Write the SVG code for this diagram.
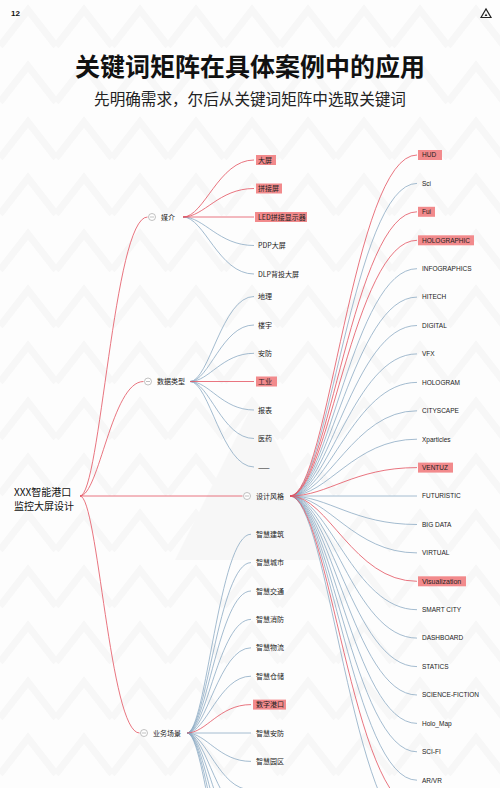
<svg xmlns="http://www.w3.org/2000/svg" width="500" height="788" viewBox="0 0 500 788">
<style>
.r{fill:none;stroke:#e3525f;stroke-width:0.8}
.b{fill:none;stroke:#85a5c0;stroke-width:0.75}
.hl{fill:#f28a8c}
.t{font-family:"Noto Sans CJK SC","Noto Sans",sans-serif;font-size:7px;fill:#222}
.e{font-family:"Liberation Sans","Noto Sans CJK SC",sans-serif;font-size:6.5px;fill:#222}
.br{fill:#fff;stroke:#a8a8a8;stroke-width:0.7}
.mn{stroke:#a8a8a8;stroke-width:0.7}
</style>
<defs>
<pattern id="bgp" width="56" height="56" patternUnits="userSpaceOnUse">
<path d="M0 46 L28 10 L56 46" fill="none" stroke="#f7f7f7" stroke-width="7"/>
</pattern>
</defs>
<rect width="500" height="788" fill="#fdfdfd"/>
<rect width="500" height="788" fill="url(#bgp)"/>
<polygon points="175,560 255,400 335,560" fill="#f7f7f7"/>

<g id="header">
<text x="11" y="16" font-family="Liberation Sans,sans-serif" font-size="8" font-weight="bold" fill="#111">12</text>
<polygon points="481,17.5 486,9 491,17.5" fill="none" stroke="#222" stroke-width="1.2"/>
<polygon points="484.6,16 486,13.6 487.4,16" fill="#222"/>
<text x="250" y="76" text-anchor="middle" font-family="Noto Sans CJK SC,sans-serif" font-size="25" font-weight="bold" fill="#111">关键词矩阵在具体案例中的应用</text>
<text x="250" y="105" text-anchor="middle" font-family="Noto Sans CJK SC,sans-serif" font-size="15.6" fill="#222">先明确需求，尔后从关键词矩阵中选取关键词</text>
</g>

<g id="connectors">
<path class="b" d="M183 217 C204.3 217 218.5 245.5 254 245.5"/>
<path class="b" d="M183 217 C204.3 217 218.5 274 254 274"/>
<path class="b" d="M190 381.5 C209.2 381.5 222 296.5 254 296.5"/>
<path class="b" d="M190 381.5 C209.2 381.5 222 325 254 325"/>
<path class="b" d="M190 381.5 C209.2 381.5 222 353.3 254 353.3"/>
<path class="b" d="M190 381.5 C209.2 381.5 222 410 254 410"/>
<path class="b" d="M190 381.5 C209.2 381.5 222 438.5 254 438.5"/>
<path class="b" d="M190 381.5 C209.2 381.5 222 467 254 467"/>
<path class="b" d="M290 496 C328.1 496 353.5 183.4 417 183.4"/>
<path class="b" d="M290 496 C328.1 496 353.5 268.7 417 268.7"/>
<path class="b" d="M290 496 C328.1 496 353.5 297.1 417 297.1"/>
<path class="b" d="M290 496 C328.1 496 353.5 325.5 417 325.5"/>
<path class="b" d="M290 496 C328.1 496 353.5 353.9 417 353.9"/>
<path class="b" d="M290 496 C328.1 496 353.5 382.4 417 382.4"/>
<path class="b" d="M290 496 C328.1 496 353.5 410.8 417 410.8"/>
<path class="b" d="M290 496 C328.1 496 353.5 439.2 417 439.2"/>
<path class="b" d="M290 496 L417 496"/>
<path class="b" d="M290 496 C328.1 496 353.5 524.5 417 524.5"/>
<path class="b" d="M290 496 C328.1 496 353.5 552.9 417 552.9"/>
<path class="b" d="M290 496 C328.1 496 353.5 609.7 417 609.7"/>
<path class="b" d="M290 496 C328.1 496 353.5 638.1 417 638.1"/>
<path class="b" d="M290 496 C328.1 496 353.5 666.6 417 666.6"/>
<path class="b" d="M290 496 C328.1 496 353.5 695 417 695"/>
<path class="b" d="M290 496 C328.1 496 353.5 723.4 417 723.4"/>
<path class="b" d="M290 496 C328.1 496 353.5 751.8 417 751.8"/>
<path class="b" d="M290 496 C328.1 496 353.5 780.2 417 780.2"/>
<path class="b" d="M290 496 C328.1 496 353.5 837.1 417 837.1"/>
<path class="b" d="M187 733 C206.2 733 219 534.2 251 534.2"/>
<path class="b" d="M187 733 C206.2 733 219 562.6 251 562.6"/>
<path class="b" d="M187 733 C206.2 733 219 591 251 591"/>
<path class="b" d="M187 733 C206.2 733 219 619.4 251 619.4"/>
<path class="b" d="M187 733 C206.2 733 219 647.8 251 647.8"/>
<path class="b" d="M187 733 C206.2 733 219 676.2 251 676.2"/>
<path class="b" d="M187 733 L251 733"/>
<path class="b" d="M187 733 C206.2 733 219 761.4 251 761.4"/>
<path class="b" d="M187 733 C206.2 733 219 789.8 251 789.8"/>
<path class="b" d="M187 733 C206.2 733 219 818.2 251 818.2"/>
<path class="b" d="M187 733 C206.2 733 219 846.6 251 846.6"/>
<path class="b" d="M187 733 C206.2 733 219 875 251 875"/>
<path class="b" d="M187 733 C206.2 733 219 903.4 251 903.4"/>
<path class="b" d="M187 733 C206.2 733 219 931.8 251 931.8"/>
<path class="r" d="M80 496 C100.3 496 113.8 217 147.5 217"/>
<path class="r" d="M80 496 C99 496 111.8 381.5 143.5 381.5"/>
<path class="r" d="M80 496 L242.5 496"/>
<path class="r" d="M80 496 C97.9 496 109.8 733 139.5 733"/>
<path class="r" d="M183 217 C204.3 217 218.5 160 254 160"/>
<path class="r" d="M183 217 C204.3 217 218.5 188.5 254 188.5"/>
<path class="r" d="M183 217 L254 217"/>
<path class="r" d="M190 381.5 L254 381.5"/>
<path class="r" d="M290 496 C328.1 496 353.5 155 417 155"/>
<path class="r" d="M290 496 C328.1 496 353.5 211.8 417 211.8"/>
<path class="r" d="M290 496 C328.1 496 353.5 240.3 417 240.3"/>
<path class="r" d="M290 496 C328.1 496 353.5 467.6 417 467.6"/>
<path class="r" d="M290 496 C328.1 496 353.5 581.3 417 581.3"/>
<path class="r" d="M290 496 C328.1 496 353.5 808.7 417 808.7"/>
<path class="r" d="M187 733 C206.2 733 219 704.6 251 704.6"/>
</g>

<g id="root">
<text class="t" x="14" y="496" style="font-size:10px;fill:#111">XXX智能港口</text>
<text class="t" x="14" y="509.5" style="font-size:10px;fill:#111">监控大屏设计</text>
</g>

<g id="media">
<circle class="br" cx="152" cy="217" r="3.5"/><line class="mn" x1="150" y1="217" x2="154" y2="217"/>
<text class="t" x="161" y="219.5">媒介</text>
</g>
<g id="media-1"><rect class="hl" x="256" y="155" width="20" height="10"/><text class="t" x="258" y="162.5">大屏</text></g>
<g id="media-2"><rect class="hl" x="256" y="183.5" width="26" height="10"/><text class="t" x="258" y="191">拼接屏</text></g>
<g id="media-3"><rect class="hl" x="255" y="212" width="52" height="10"/><text class="t" x="258" y="219.5">LED拼接显示器</text></g>
<g id="media-4"><text class="t" x="258" y="248">PDP大屏</text></g>
<g id="media-5"><text class="t" x="258" y="276.5">DLP背投大屏</text></g>

<g id="data">
<circle class="br" cx="148" cy="381.5" r="3.5"/><line class="mn" x1="146" y1="381.5" x2="150" y2="381.5"/>
<text class="t" x="157" y="384">数据类型</text>
</g>
<g id="data-1"><text class="t" x="258" y="299">地理</text></g>
<g id="data-2"><text class="t" x="258" y="327.5">楼宇</text></g>
<g id="data-3"><text class="t" x="258" y="355.8">安防</text></g>
<g id="data-4"><rect class="hl" x="256" y="376.5" width="21" height="10"/><text class="t" x="258" y="384">工业</text></g>
<g id="data-5"><text class="t" x="258" y="412.5">报表</text></g>
<g id="data-6"><text class="t" x="258" y="441">医药</text></g>
<g id="data-7"><text class="t" x="258" y="469.5">——</text></g>

<g id="design">
<circle class="br" cx="247" cy="496" r="3.5"/><line class="mn" x1="245" y1="496" x2="249" y2="496"/>
<text class="t" x="256" y="498.5">设计风格</text>
</g>
<g id="d1"><rect class="hl" x="418" y="150" width="24" height="10"/><text class="e" x="422" y="157.3">HUD</text></g>
<g id="d2"><text class="e" x="422" y="185.7">Sci</text></g>
<g id="d3"><rect class="hl" x="418" y="206.8" width="17" height="10"/><text class="e" x="422" y="214.1">Fui</text></g>
<g id="d4"><rect class="hl" x="418" y="235.3" width="56" height="10"/><text class="e" x="422" y="242.6">HOLOGRAPHIC</text></g>
<g id="d5"><text class="e" x="422" y="271">INFOGRAPHICS</text></g>
<g id="d6"><text class="e" x="422" y="299.4">HITECH</text></g>
<g id="d7"><text class="e" x="422" y="327.8">DIGITAL</text></g>
<g id="d8"><text class="e" x="422" y="356.2">VFX</text></g>
<g id="d9"><text class="e" x="422" y="384.7">HOLOGRAM</text></g>
<g id="d10"><text class="e" x="422" y="413.1">CITYSCAPE</text></g>
<g id="d11"><text class="e" x="422" y="441.5">Xparticles</text></g>
<g id="d12"><rect class="hl" x="418" y="462.6" width="35" height="10"/><text class="e" x="422" y="469.9">VENTUZ</text></g>
<g id="d13"><text class="e" x="422" y="498.3">FUTURISTIC</text></g>
<g id="d14"><text class="e" x="422" y="526.8">BIG DATA</text></g>
<g id="d15"><text class="e" x="422" y="555.2">VIRTUAL</text></g>
<g id="d16"><rect class="hl" x="418" y="576.3" width="48" height="10"/><text class="e" x="422" y="583.6" style="font-size:7px">Visualization</text></g>
<g id="d17"><text class="e" x="422" y="612">SMART CITY</text></g>
<g id="d18"><text class="e" x="422" y="640.4">DASHBOARD</text></g>
<g id="d19"><text class="e" x="422" y="668.9">STATICS</text></g>
<g id="d20"><text class="e" x="422" y="697.3">SCIENCE-FICTION</text></g>
<g id="d21"><text class="e" x="422" y="725.7">Holo_Map</text></g>
<g id="d22"><text class="e" x="422" y="754.1">SCI-FI</text></g>
<g id="d23"><text class="e" x="422" y="782.5">AR/VR</text></g>

<g id="business">
<circle class="br" cx="144" cy="733" r="3.5"/><line class="mn" x1="142" y1="733" x2="146" y2="733"/>
<text class="t" x="153" y="735.5">业务场景</text>
</g>
<g id="b1"><text class="t" x="256" y="536.7">智慧建筑</text></g>
<g id="b2"><text class="t" x="256" y="565.1">智慧城市</text></g>
<g id="b3"><text class="t" x="256" y="593.5">智慧交通</text></g>
<g id="b4"><text class="t" x="256" y="621.9">智慧消防</text></g>
<g id="b5"><text class="t" x="256" y="650.3">智慧物流</text></g>
<g id="b6"><text class="t" x="256" y="678.7">智慧仓储</text></g>
<g id="b7"><rect class="hl" x="253" y="699.6" width="33" height="10"/><text class="t" x="256" y="707.1">数字港口</text></g>
<g id="b8"><text class="t" x="256" y="735.5">智慧安防</text></g>
<g id="b9"><text class="t" x="256" y="763.9">智慧园区</text></g>
</svg>
